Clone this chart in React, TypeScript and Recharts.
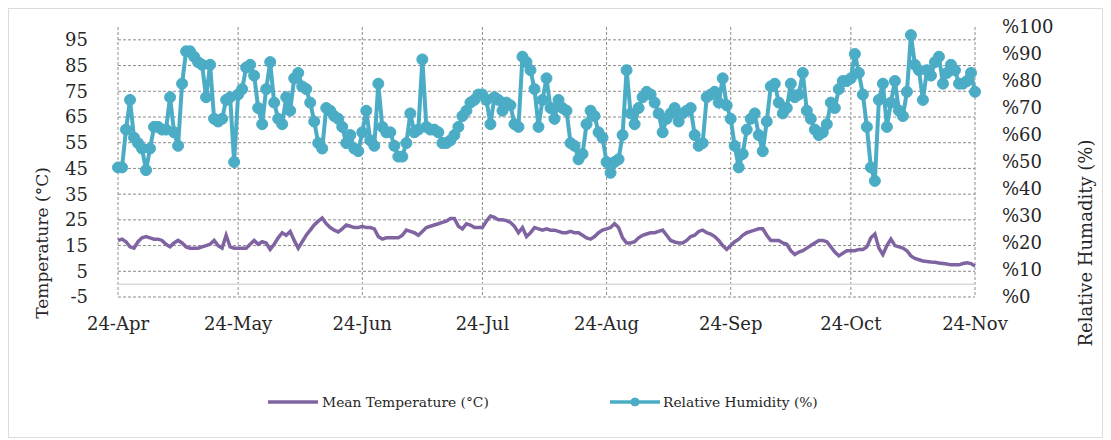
import React from "react";
import {
  ComposedChart,
  Line,
  XAxis,
  YAxis,
  CartesianGrid,
  Legend,
  ReferenceLine,
} from "recharts";

const xTickDays = [0, 30, 61, 91, 122, 153, 183, 214];
const xTickLabels = ["24-Apr", "24-May", "24-Jun", "24-Jul", "24-Aug", "24-Sep", "24-Oct", "24-Nov"];
const tempTicks = [-5, 5, 15, 25, 35, 45, 55, 65, 75, 85, 95];
const humTicks = [0, 10, 20, 30, 40, 50, 60, 70, 80, 90, 100];

const humidity = [
  48, 48, 62, 73, 59, 57, 55, 47, 55, 63,
  63, 62, 62, 74, 61, 56, 79, 91, 91, 89,
  87, 86, 74, 86, 66, 65, 66, 73, 74, 50,
  75, 77, 85, 86, 82, 70, 64, 77, 87, 72,
  66, 64, 74, 69, 81, 83, 78, 77, 72, 65,
  57, 55, 70, 69, 67, 66, 63, 57, 60, 55,
  54, 61, 69, 58, 56, 79, 63, 61, 61, 56,
  52, 52, 57, 68, 61, 62, 88, 63, 62, 62,
  61, 57, 57, 58, 60, 63, 67, 69, 72, 73,
  75, 75, 73, 64, 74, 73, 69, 72, 71, 64,
  63, 89, 87, 84, 77, 63, 73, 81, 70, 66,
  73, 70, 69, 57, 56, 51, 53, 64, 69, 67,
  61, 59, 50, 46, 50, 51, 60, 84, 68, 64,
  70, 74, 76, 75, 72, 68, 61, 66, 68, 70,
  65, 68, 69, 70, 60, 56, 57, 74, 75, 76,
  72, 81, 71, 66, 56, 48, 53, 62, 66, 68,
  60, 54, 65, 78, 79, 72, 68, 70, 79, 74,
  75, 83, 69, 66, 62, 60, 61, 64, 72, 70,
  77, 80, 80, 81, 90, 83, 75, 63, 48, 43,
  73, 79, 63, 72, 80, 69, 67, 76, 97, 86,
  84, 73, 84, 82, 87, 89, 79, 83, 86, 84,
  79, 79, 80, 83, 76,
];

const temperature = [
  17, 17.5, 16.5, 14.5, 14, 16.5, 18, 18.5, 18, 17.5,
  17.5, 17, 15.5, 14.5, 16, 17, 16, 14.5, 14, 14,
  14, 14.5, 15, 15.5, 17, 15, 14, 19, 14.5, 14,
  14, 14, 14, 15.5, 17, 15.5, 16.5, 16, 13.5, 15.5,
  18, 20, 19, 20.5, 17, 14, 16.5, 19, 21, 23,
  24.5, 25.7, 23.5, 22, 21, 20.3, 21.5, 23, 22.5, 22,
  22, 22.5, 22, 22, 21.5, 18.5, 17.5, 18, 18, 18,
  18, 19, 21, 20.5, 20, 19, 20.5, 22, 22.5, 23,
  23.5, 24, 24.5, 25.5, 25.5, 22.5, 21.5, 23.5, 23, 22,
  22, 22, 24.5, 26.5, 26, 25, 25, 24.7, 24, 22.5,
  20, 22, 18.5, 20, 22, 21.5, 21, 21.5, 21, 21,
  20.5, 20, 20, 20.5, 20, 20, 19, 18, 17.5, 18.5,
  20, 21, 21.5, 22, 23.5, 22, 18, 16, 16, 16.5,
  18, 19, 19.5, 20, 20, 20.5, 21, 19, 17, 16.4,
  16, 16, 17, 18.5, 19, 20.5, 21, 20, 19.5, 18.5,
  17, 15, 13.5, 15, 16.5, 17.5, 19, 20, 20.5, 21,
  21.5, 21.5, 19, 17, 17, 17, 16, 15.5, 13, 11.5,
  12.5, 13, 14, 15, 16, 17, 17, 16.5, 14.5, 12.5,
  11, 12, 13, 13, 13, 13.5, 13.5, 14.5, 18, 19.5,
  14, 11.5, 15, 17.5, 15, 14.5, 14, 13, 11, 10,
  9.5, 9, 8.8, 8.6, 8.5, 8.2, 8, 7.8, 7.5, 7.5,
  7.5, 8, 8.3, 8, 7,
];

const data = humidity.map((h, i) => ({ day: i, hum: h, temp: temperature[i] }));

const TEMP_COLOR = "#8064A2";
const HUM_COLOR = "#4BACC6";
const FONT = "DejaVu Serif";
const TEXT = "#262626";

const W = 1093;
const H = 424;

const tickStyle = { fontSize: 18, fontFamily: FONT, fill: TEXT };

function LegendContent() {
  return (
    <svg width={W} height={30} style={{ display: "block" }}>
      <line x1={259} x2={309} y1={15} y2={15} stroke={TEMP_COLOR} strokeWidth={3.5} />
      <text x={313} y={15} dy="0.35em" fontSize={13.8} fontFamily={FONT} fill={TEXT}>
        Mean Temperature (°C)
      </text>
      <line x1={601} x2={651} y1={15} y2={15} stroke={HUM_COLOR} strokeWidth={3.5} />
      <circle cx={626} cy={15} r={4} fill={HUM_COLOR} stroke={HUM_COLOR} />
      <text x={654} y={15} dy="0.35em" fontSize={13.8} fontFamily={FONT} fill={TEXT}>
        Relative Humidity (%)
      </text>
    </svg>
  );
}

export default function App() {
  return (
    <div
      style={{
        width: W,
        height: H + 4,
        border: "1px solid #dcdcdc",
        background: "#fff",
        boxSizing: "content-box",
      }}
    >
      <ComposedChart
        width={W}
        height={H}
        data={data}
        margin={{ top: 18, right: 47, bottom: 76, left: 49 }}
      >
        <CartesianGrid
          yAxisId="left"
          stroke="#8c8c8c"
          strokeDasharray="3 2"
          horizontalValues={tempTicks}
          verticalValues={xTickDays}
        />
        <XAxis
          dataKey="day"
          type="number"
          domain={[0, 214]}
          ticks={xTickDays}
          tickFormatter={(v: number) => xTickLabels[xTickDays.indexOf(v)] ?? ""}
          axisLine={false}
          tickLine={false}
          tickSize={6}
          tickMargin={14}
          height={30}
          interval={0}
          tick={tickStyle}
        />
        <YAxis
          yAxisId="left"
          orientation="left"
          domain={[-5, 100]}
          ticks={tempTicks}
          interval={0}
          axisLine={false}
          tickLine={false}
          tickSize={6}
          tickMargin={24}
          width={60}
          tick={tickStyle}
          label={{
            content: () => (
              <text
                x={33}
                y={234}
                transform="rotate(-90 33 234)"
                textAnchor="middle"
                dominantBaseline="central"
                fontSize={17}
                fontFamily={FONT}
                fill={TEXT}
              >
                Temperature (°C)
              </text>
            ),
          }}
        />
        <YAxis
          yAxisId="right"
          orientation="right"
          domain={[0, 100]}
          ticks={humTicks}
          interval={0}
          axisLine={false}
          tickLine={false}
          tickSize={6}
          tickMargin={21}
          width={80}
          tickFormatter={(v: number) => "%" + v}
          tick={{ ...tickStyle, textAnchor: "start" }}
          label={{
            content: () => (
              <text
                x={1076}
                y={234}
                transform="rotate(-90 1076 234)"
                textAnchor="middle"
                dominantBaseline="central"
                fontSize={18}
                fontFamily={FONT}
                fill={TEXT}
              >
                Relative Humadity (%)
              </text>
            ),
          }}
        />
        <ReferenceLine yAxisId="left" y={0} stroke="#d9d9d9" strokeWidth={1.5} />
        <Line
          yAxisId="left"
          type="linear"
          dataKey="temp"
          name="Mean Temperature (°C)"
          stroke={TEMP_COLOR}
          strokeWidth={3.5}
          dot={false}
          isAnimationActive={false}
        />
        <Line
          yAxisId="right"
          type="linear"
          dataKey="hum"
          name="Relative Humidity (%)"
          stroke={HUM_COLOR}
          strokeWidth={4}
          dot={{ r: 5.5, fill: HUM_COLOR, stroke: HUM_COLOR, strokeWidth: 1 }}
          isAnimationActive={false}
        />
        <Legend
          content={() => <LegendContent />}
          wrapperStyle={{ position: "absolute", left: 0, top: 378, width: W, height: 30 }}
        />
      </ComposedChart>
    </div>
  );
}
